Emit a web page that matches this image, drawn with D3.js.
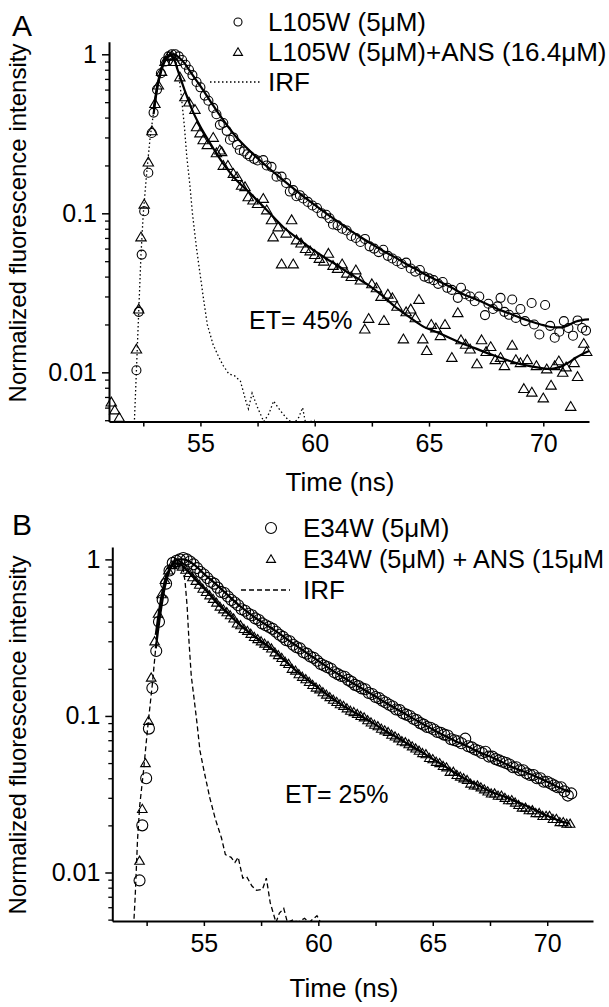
<!DOCTYPE html>
<html><head><meta charset="utf-8">
<script src="https://cdn.jsdelivr.net/npm/d3@7"></script>
<style>body{margin:0;background:#fff}svg{display:block}text{font-family:"Liberation Sans",Arial,sans-serif;fill:#000}</style>
</head><body>
<svg id="chart" width="609" height="1007"></svg>
<script>
// ---------- DATA (time in ns, normalized intensity) ----------
const xTicks = [55, 60, 65, 70];
const xMinorTicks = [52.5, 57.5, 62.5, 67.5];
const yTicks = [1, 0.1, 0.01];
const yTickLabels = ["1", "0.1", "0.01"];
const xTitle = "Time (ns)";
const yTitle = "Normalized fluorescence intensity";
const legendA = ["L105W (5\u03BCM)", "L105W (5\u03BCM)+ANS (16.4\u03BCM)", "IRF"];
const legendB = ["E34W (5\u03BCM)", "E34W (5\u03BCM) + ANS (15\u03BCM", "IRF"];
const etA = "ET= 45%";
const etB = "ET= 25%";

const aCircles = [[52.2,0.0103],[52.3,0.024],[52.43,0.055],[52.54,0.103],[52.72,0.18],[52.87,0.32],[52.95,0.43],[53.1,0.6],[53.27,0.76],[53.45,0.9],[53.6,0.97],[53.75,1.0],[53.9,1.0],[54.05,0.97],[54.2,0.92],[54.35,0.86],[54.5,0.8],[54.65,0.74],[54.83,0.67],[55.0,0.62],[55.19,0.55],[55.35,0.51],[55.56,0.46],[55.7,0.42],[55.85,0.36],[56.0,0.37],[56.15,0.33],[56.29,0.29],[56.44,0.3],[56.6,0.27],[56.72,0.25],[56.9,0.245],[57.05,0.235],[57.17,0.228],[57.35,0.22],[57.5,0.215],[57.75,0.216],[57.9,0.2],[58.11,0.196],[58.33,0.17],[58.55,0.17],[58.75,0.155],[58.91,0.137],[59.06,0.14],[59.2,0.128],[59.35,0.13],[59.5,0.124],[59.7,0.118],[59.9,0.112],[60.1,0.108],[60.3,0.1],[60.5,0.098],[60.65,0.093],[60.8,0.085],[61.0,0.084],[61.2,0.08],[61.4,0.078],[61.6,0.072],[61.8,0.07],[62.0,0.066],[62.2,0.069],[62.4,0.062],[62.6,0.06],[62.8,0.057],[63.0,0.059],[63.2,0.054],[63.4,0.052],[63.6,0.05],[63.8,0.048],[64.0,0.049],[64.2,0.045],[64.4,0.043],[64.6,0.044],[64.8,0.04],[65.0,0.039],[65.2,0.038],[65.4,0.036],[65.6,0.037],[65.8,0.034],[66.0,0.033],[66.26,0.0294],[66.4,0.034],[66.6,0.031],[66.8,0.03],[67.0,0.028],[67.2,0.03],[67.45,0.0229],[67.6,0.027],[67.8,0.025],[68.0,0.026],[68.13,0.0294],[68.3,0.024],[68.5,0.023],[68.64,0.0287],[68.8,0.022],[69.0,0.025],[69.2,0.021],[69.49,0.0273],[69.6,0.02],[69.83,0.0173],[70.08,0.0265],[70.3,0.0196],[70.5,0.0165],[70.7,0.018],[70.9,0.021],[71.1,0.019],[71.3,0.017],[71.5,0.0212],[71.7,0.019],[71.87,0.0183]];

const aTriangles = [[51.1,0.0065],[51.25,0.0058],[51.45,0.0052],[52.2,0.014],[52.3,0.025],[52.4,0.071],[52.54,0.114],[52.72,0.21],[52.88,0.33],[53.01,0.49],[53.16,0.64],[53.3,0.78],[53.45,0.9],[53.6,0.97],[53.75,0.98],[53.9,0.9],[54.1,0.72],[54.32,0.54],[54.5,0.5],[54.76,0.45],[54.83,0.35],[54.98,0.32],[55.12,0.29],[55.3,0.27],[55.56,0.3],[55.7,0.24],[55.85,0.25],[55.93,0.244],[56.0,0.2],[56.2,0.2],[56.44,0.178],[56.6,0.17],[56.8,0.15],[56.95,0.147],[57.09,0.127],[57.3,0.121],[57.5,0.115],[57.75,0.124],[57.9,0.105],[58.11,0.091],[58.18,0.071],[58.4,0.082],[58.55,0.048],[58.75,0.075],[58.99,0.091],[59.06,0.048],[59.2,0.068],[59.4,0.065],[59.6,0.06],[59.8,0.058],[60.0,0.055],[60.2,0.052],[60.4,0.05],[60.6,0.056],[60.8,0.047],[61.0,0.045],[61.2,0.048],[61.4,0.042],[61.6,0.04],[61.8,0.044],[62.0,0.038],[62.19,0.0187],[62.36,0.0218],[62.5,0.036],[62.7,0.034],[62.9,0.03],[63.03,0.0212],[63.2,0.031],[63.4,0.0294],[63.6,0.026],[63.88,0.0162],[64.0,0.024],[64.2,0.025],[64.4,0.022],[64.56,0.0287],[64.73,0.0162],[64.9,0.0137],[65.1,0.02],[65.3,0.019],[65.5,0.017],[65.7,0.02],[66.0,0.0124],[66.26,0.0237],[66.4,0.016],[66.6,0.015],[66.8,0.014],[67.1,0.0113],[67.3,0.016],[67.5,0.0135],[67.7,0.0145],[67.9,0.012],[68.13,0.0124],[68.3,0.011],[68.64,0.0148],[68.8,0.012],[69.0,0.0115],[69.15,0.0079],[69.3,0.012],[69.5,0.0075],[69.7,0.011],[70.0,0.0069],[70.15,0.0105],[70.34,0.0083],[70.5,0.011],[70.68,0.0118],[70.85,0.01],[71.0,0.0108],[71.2,0.0061],[71.35,0.0115],[71.5,0.0094],[71.77,0.0152],[71.9,0.0135]];

const aCircleFit = [[52.95,0.42],[53.1,0.6],[53.3,0.8],[53.5,0.94],[53.7,1.0],[53.85,1.0],[54.0,0.97],[54.3,0.88],[54.6,0.76],[55.0,0.63],[55.5,0.49],[56.0,0.385],[56.5,0.31],[57.0,0.26],[57.5,0.222],[58.0,0.192],[58.5,0.167],[59.0,0.146],[59.5,0.128],[60.0,0.113],[60.5,0.1],[61,0.089],[61.5,0.079],[62,0.071],[62.5,0.064],[63,0.058],[63.5,0.053],[64,0.048],[64.5,0.044],[65,0.04],[65.5,0.037],[66,0.034],[66.5,0.031],[67,0.029],[67.5,0.027],[68,0.025],[68.5,0.0235],[69,0.022],[69.5,0.0208],[70,0.0198],[70.5,0.0192],[70.8,0.0192],[71.1,0.0198],[71.4,0.0208],[71.7,0.0213],[72,0.0215]];

const aTriangleFit = [[52.95,0.45],[53.1,0.62],[53.3,0.82],[53.5,0.95],[53.7,0.98],[53.85,0.93],[54.0,0.8],[54.3,0.6],[54.6,0.46],[55.0,0.35],[55.4,0.28],[55.7,0.238],[56.0,0.205],[56.44,0.17],[57.17,0.134],[57.9,0.105],[58.62,0.082],[59.35,0.068],[60,0.058],[60.5,0.052],[61,0.047],[61.5,0.042],[62,0.038],[62.4,0.035],[63,0.03],[63.5,0.026],[64,0.023],[64.7,0.0196],[65.5,0.0175],[66.4,0.0153],[67,0.0142],[67.5,0.0133],[68.1,0.0124],[68.6,0.0117],[69.2,0.0111],[69.8,0.0107],[70.2,0.0105],[70.5,0.0106],[70.8,0.0109],[71.1,0.0115],[71.4,0.0123],[71.7,0.013],[72,0.0136]];

const aIRF = [[52.1,0.0045],[52.2,0.0103],[52.3,0.024],[52.4,0.055],[52.5,0.1],[52.65,0.18],[52.8,0.3],[52.95,0.43],[53.1,0.6],[53.3,0.8],[53.5,0.95],[53.7,1.0],[53.85,0.97],[54.03,0.8],[54.18,0.52],[54.3,0.35],[54.4,0.23],[54.54,0.15],[54.65,0.1],[54.83,0.06],[55.0,0.04],[55.12,0.03],[55.3,0.02],[55.55,0.015],[55.8,0.0125],[56.0,0.011],[56.24,0.0098],[56.5,0.0095],[56.75,0.0088],[57.0,0.0065],[57.1,0.0059],[57.26,0.0074],[57.5,0.006],[57.77,0.0049],[58.0,0.0055],[58.2,0.0066],[58.4,0.006],[58.6,0.0055],[58.85,0.005],[59.1,0.0048],[59.3,0.0052],[59.47,0.006],[59.6,0.0048],[59.8,0.0049],[60.0,0.005]];

const bCircles = [[52.19,0.0089],[52.31,0.02],[52.48,0.04],[52.6,0.083],[52.75,0.151],[52.92,0.26],[53.04,0.40],[53.2,0.55],[53.35,0.7],[53.5,0.85],[53.64,0.95],[53.8,0.98],[53.95,1.0],[54.1,1.02],[54.25,1.0],[54.4,0.97],[54.55,0.93],[54.7,0.88],[54.85,0.83],[55.0,0.8],[55.15,0.76],[55.3,0.72],[55.45,0.7],[55.6,0.66],[55.75,0.62],[55.9,0.61],[56.05,0.58],[56.2,0.55],[56.35,0.53],[56.5,0.51],[56.65,0.48],[56.8,0.47],[56.95,0.45],[57.1,0.44],[57.25,0.42],[57.4,0.41],[57.55,0.39],[57.7,0.38],[57.85,0.37],[58.0,0.36],[58.15,0.345],[58.3,0.33],[58.45,0.32],[58.6,0.305],[58.75,0.3],[58.9,0.285],[59.05,0.275],[59.2,0.27],[59.35,0.255],[59.5,0.25],[59.65,0.24],[59.8,0.235],[59.95,0.225],[60.1,0.215],[60.25,0.21],[60.4,0.205],[60.55,0.2],[60.7,0.19],[60.85,0.185],[61.0,0.18],[61.15,0.178],[61.3,0.17],[61.45,0.165],[61.6,0.158],[61.75,0.155],[61.9,0.15],[62.05,0.148],[62.2,0.14],[62.35,0.138],[62.5,0.132],[62.65,0.13],[62.8,0.125],[62.95,0.122],[63.1,0.118],[63.25,0.115],[63.4,0.11],[63.55,0.109],[63.7,0.104],[63.85,0.102],[64.0,0.1],[64.15,0.096],[64.3,0.094],[64.45,0.09],[64.6,0.088],[64.75,0.085],[64.9,0.084],[65.05,0.082],[65.2,0.079],[65.35,0.078],[65.5,0.076],[65.65,0.075],[65.8,0.071],[65.95,0.07],[66.1,0.069],[66.25,0.067],[66.42,0.0716],[66.55,0.064],[66.7,0.063],[66.85,0.061],[67.0,0.06],[67.15,0.058],[67.3,0.059],[67.45,0.055],[67.6,0.055],[67.75,0.053],[67.9,0.052],[68.05,0.051],[68.2,0.05],[68.35,0.049],[68.5,0.047],[68.65,0.047],[68.8,0.045],[68.95,0.045],[69.1,0.043],[69.25,0.042],[69.4,0.042],[69.55,0.04],[69.7,0.04],[69.85,0.038],[70.0,0.038],[70.15,0.037],[70.3,0.036],[70.45,0.035],[70.6,0.035],[70.75,0.033],[70.9,0.031],[71.05,0.032]];

const bTriangles = [[52.19,0.0119],[52.31,0.0255],[52.45,0.05],[52.58,0.093],[52.7,0.176],[52.85,0.3],[53.0,0.45],[53.15,0.6],[53.3,0.74],[53.45,0.85],[53.6,0.92],[53.75,0.95],[53.9,0.93],[54.05,0.9],[54.2,0.86],[54.35,0.82],[54.5,0.77],[54.65,0.73],[54.8,0.69],[54.95,0.65],[55.1,0.62],[55.25,0.59],[55.4,0.56],[55.55,0.53],[55.7,0.5],[55.85,0.48],[56.0,0.46],[56.15,0.44],[56.3,0.42],[56.45,0.39],[56.6,0.38],[56.75,0.36],[56.9,0.35],[57.05,0.335],[57.2,0.32],[57.35,0.31],[57.5,0.3],[57.65,0.29],[57.8,0.28],[57.95,0.27],[58.1,0.255],[58.25,0.245],[58.4,0.235],[58.55,0.222],[58.7,0.215],[58.85,0.2],[59.0,0.195],[59.15,0.185],[59.3,0.178],[59.45,0.172],[59.6,0.165],[59.75,0.158],[59.9,0.152],[60.05,0.148],[60.2,0.142],[60.35,0.137],[60.5,0.132],[60.65,0.127],[60.8,0.123],[60.95,0.119],[61.1,0.116],[61.25,0.112],[61.4,0.108],[61.55,0.106],[61.7,0.103],[61.85,0.1],[62.0,0.098],[62.15,0.094],[62.3,0.091],[62.45,0.088],[62.6,0.086],[62.75,0.083],[62.9,0.081],[63.05,0.079],[63.2,0.076],[63.35,0.074],[63.5,0.072],[63.65,0.069],[63.8,0.068],[63.95,0.066],[64.1,0.064],[64.25,0.062],[64.4,0.06],[64.55,0.058],[64.7,0.057],[64.85,0.054],[65.0,0.053],[65.15,0.051],[65.3,0.05],[65.45,0.048],[65.6,0.047],[65.75,0.044],[65.9,0.044],[66.05,0.042],[66.2,0.041],[66.35,0.04],[66.5,0.039],[66.65,0.037],[66.8,0.036],[66.95,0.036],[67.1,0.035],[67.25,0.034],[67.4,0.033],[67.55,0.032],[67.7,0.032],[67.85,0.031],[68.0,0.031],[68.15,0.03],[68.3,0.029],[68.45,0.029],[68.6,0.028],[68.75,0.027],[68.9,0.026],[69.05,0.026],[69.2,0.025],[69.35,0.025],[69.5,0.024],[69.65,0.024],[69.8,0.023],[69.95,0.023],[70.1,0.023],[70.25,0.022],[70.4,0.022],[70.55,0.021],[70.7,0.021],[70.85,0.0205],[71.0,0.0205]];

const bCircleFit = [[52.9,0.27],[53.1,0.45],[53.3,0.67],[53.5,0.85],[53.7,0.96],[53.9,1.0],[54.1,1.0],[54.3,0.98],[54.6,0.92],[55,0.81],[55.5,0.7],[56,0.6],[56.5,0.515],[57,0.45],[57.5,0.4],[58,0.36],[58.5,0.32],[59,0.283],[59.5,0.252],[60,0.225],[60.5,0.2],[61,0.18],[61.5,0.162],[62,0.147],[62.5,0.133],[63,0.12],[63.5,0.109],[64,0.099],[64.5,0.09],[65,0.082],[65.5,0.075],[66,0.069],[66.5,0.064],[67,0.059],[67.5,0.055],[68,0.051],[68.5,0.047],[69,0.044],[69.5,0.041],[70,0.038],[70.5,0.035],[71,0.0325]];

const bTriangleFit = [[52.9,0.33],[53.1,0.53],[53.3,0.73],[53.5,0.87],[53.7,0.94],[53.9,0.94],[54.1,0.9],[54.4,0.81],[54.8,0.7],[55.2,0.61],[55.6,0.52],[56,0.46],[56.5,0.39],[57,0.34],[57.5,0.3],[58,0.265],[58.5,0.228],[59,0.196],[59.5,0.172],[60,0.151],[60.5,0.133],[61,0.118],[61.5,0.107],[62,0.097],[62.5,0.088],[63,0.079],[63.5,0.072],[64,0.065],[64.5,0.059],[65,0.053],[65.5,0.048],[66,0.043],[66.5,0.039],[67,0.036],[67.5,0.033],[68,0.031],[68.5,0.029],[69,0.027],[69.5,0.025],[70,0.023],[70.5,0.0215],[71,0.0205]];

const bIRF = [[51.93,0.0045],[52.0,0.007],[52.1,0.016],[52.2,0.027],[52.36,0.044],[52.53,0.08],[52.75,0.16],[52.95,0.33],[53.13,0.52],[53.3,0.75],[53.47,0.9],[53.7,0.98],[53.85,1.0],[54.05,0.95],[54.18,0.72],[54.27,0.5],[54.35,0.3],[54.45,0.18],[54.57,0.13],[54.7,0.09],[54.83,0.06],[55.0,0.045],[55.26,0.03],[55.5,0.022],[55.77,0.0166],[55.94,0.013],[56.19,0.0125],[56.36,0.0116],[56.5,0.0125],[56.7,0.0092],[56.87,0.0094],[57.1,0.0082],[57.3,0.0077],[57.56,0.0078],[57.73,0.0092],[57.9,0.0064],[58.15,0.0048],[58.3,0.0055],[58.49,0.0059],[58.65,0.0048],[58.92,0.005],[59.1,0.0048],[59.4,0.0051],[59.6,0.0048],[59.94,0.0053],[60.1,0.0048]];

const xDomain = [51, 72];
const yDomain = [0.0049, 1.2];

// ---------- DRAWING ----------
const svg = d3.select("#chart");
svg.append("rect").attr("width", 609).attr("height", 1007).attr("fill", "#fff");

const triPath = s => `M0,${-s*0.95}L${s},${s*0.75}L${-s},${s*0.75}Z`;
const FONT = '"Liberation Sans",Arial,sans-serif';

function drawPanel(p) {
  const x = d3.scaleLinear().domain(xDomain).range([p.left, p.right]);
  const y = d3.scaleLog().domain(yDomain).range([p.bottom, p.top]);
  const g = svg.append("g");
  const clipId = "clip" + p.id;
  svg.append("defs").append("clipPath").attr("id", clipId)
    .append("rect").attr("x", p.left).attr("y", p.top - 20)
    .attr("width", p.right - p.left + 10).attr("height", p.bottom - p.top + 20);

  // minor y ticks
  const minors = [];
  for (let e = -3; e <= 0; e++) for (let k = 2; k <= 9; k++) {
    const v = k * Math.pow(10, e);
    if (v >= yDomain[0] && v <= yDomain[1]) minors.push(v);
  }
  g.append("g").attr("transform", `translate(${p.left},0)`)
    .call(d3.axisLeft(y).tickValues(minors).tickSize(4).tickSizeOuter(0).tickFormat(""))
    .call(a => a.select(".domain").remove())
    .call(a => a.selectAll("line").attr("stroke-width", 1.3));
  const yAx = g.append("g").attr("transform", `translate(${p.left},0)`)
    .call(d3.axisLeft(y).tickValues(yTicks).tickSize(7).tickSizeOuter(0).tickPadding(5)
      .tickFormat((d, i) => yTickLabels[i]));
  yAx.select(".domain").attr("stroke-width", 2);
  yAx.selectAll("line").attr("stroke-width", 1.5);
  yAx.selectAll("text").attr("font-size", 25).style("font-family", FONT);

  // x axis
  g.append("g").attr("transform", `translate(0,${p.bottom})`)
    .call(d3.axisBottom(x).tickValues(xMinorTicks).tickSize(5).tickSizeOuter(0).tickFormat(""))
    .call(a => a.select(".domain").remove())
    .call(a => a.selectAll("line").attr("stroke-width", 1.5));
  const xAx = g.append("g").attr("transform", `translate(0,${p.bottom})`)
    .call(d3.axisBottom(x).tickValues(xTicks).tickSize(5).tickSizeOuter(0).tickPadding(8));
  xAx.select(".domain").attr("stroke-width", 2);
  xAx.selectAll("line").attr("stroke-width", 1.5);
  xAx.selectAll("text").attr("font-size", 25).style("font-family", FONT);

  // titles
  g.append("text").attr("x", p.xTitleX).attr("y", p.xTitleY).attr("text-anchor", "middle")
    .attr("font-size", 26).text(xTitle);
  g.append("text").attr("transform", `translate(${p.yTitleX},${p.yTitleY}) rotate(-90)`)
    .attr("text-anchor", "middle").attr("font-size", 24).text(yTitle);
  g.append("text").attr("x", p.letterX).attr("y", p.letterY).attr("font-size", 30).text(p.letter);
  g.append("text").attr("x", p.etX).attr("y", p.etY).attr("font-size", 25).text(p.et);

  const line = d3.line().x(d => x(d[0])).y(d => y(d[1]));
  const lines = g.append("g").attr("clip-path", `url(#${clipId})`);
  lines.append("path").datum(p.irf).attr("d", line).attr("fill", "none")
    .attr("stroke", "#000").attr("stroke-width", 1.3).attr("stroke-dasharray", p.irfDash);

  // markers
  const mk = g.append("g");
  mk.selectAll("path.tri").data(p.tri).join("path").attr("class", "tri")
    .attr("transform", d => `translate(${x(d[0])},${y(d[1])})`)
    .attr("d", triPath(p.triSize)).attr("fill", "none").attr("stroke", "#000").attr("stroke-width", 1.1);
  mk.selectAll("circle").data(p.circ).join("circle")
    .attr("cx", d => x(d[0])).attr("cy", d => y(d[1])).attr("r", p.circR)
    .attr("fill", "none").attr("stroke", "#000").attr("stroke-width", 1.1);

  // fit lines
  const fit = d3.line().curve(d3.curveMonotoneX).x(d => x(d[0])).y(d => y(d[1]));
  lines.append("path").datum(p.circFit).attr("d", fit).attr("fill", "none").attr("stroke", "#000").attr("stroke-width", 2.2);
  lines.append("path").datum(p.triFit).attr("d", fit).attr("fill", "none").attr("stroke", "#000").attr("stroke-width", 2.2);

  // legend
  const lg = g.append("g");
  lg.append("circle").attr("cx", p.legX).attr("cy", p.legY[0]).attr("r", p.legCircR)
    .attr("fill", "none").attr("stroke", "#000").attr("stroke-width", 1.1);
  lg.append("path").attr("transform", `translate(${p.legX},${p.legY[1]})`).attr("d", triPath(p.legTri))
    .attr("fill", "none").attr("stroke", "#000").attr("stroke-width", 1.1);
  lg.append("line").attr("x1", p.legLine[0]).attr("x2", p.legLine[1]).attr("y1", p.legY[2]).attr("y2", p.legY[2])
    .attr("stroke", "#000").attr("stroke-width", 1.3).attr("stroke-dasharray", p.irfDash);
  p.legend.forEach((t, i) => {
    lg.append("text").attr("x", p.legTextX).attr("y", p.legY[i] + 9).attr("font-size", p.legFont[i]).text(t);
  });
}

drawPanel({id: "A", left: 109, right: 589, top: 41.7, bottom: 421.6,
  circ: aCircles, tri: aTriangles, circFit: aCircleFit, triFit: aTriangleFit, irf: aIRF,
  irfDash: "1.5,2.5", circR: 4.5, triSize: 5.2,
  xTitleX: 340, xTitleY: 491, yTitleX: 26, yTitleY: 223,
  letter: "A", letterX: 12, letterY: 36, et: etA, etX: 249, etY: 329,
  legend: legendA, legFont: [26, 26, 26], legX: 238, legY: [22, 52, 82], legCircR: 4, legTri: 4.5, legLine: [210, 262], legTextX: 268});

drawPanel({id: "B", left: 112.3, right: 593, top: 547, bottom: 921,
  circ: bCircles, tri: bTriangles, circFit: bCircleFit, triFit: bTriangleFit, irf: bIRF,
  irfDash: "5,3", circR: 5.5, triSize: 4.8,
  xTitleX: 344, xTitleY: 997, yTitleX: 26, yTitleY: 735,
  letter: "B", letterX: 12, letterY: 535, et: etB, etX: 285, etY: 803,
  legend: legendB, legFont: [26, 25.3, 26], legX: 271, legY: [528, 559, 590], legCircR: 5.5, legTri: 4.5, legLine: [241, 290], legTextX: 303});
</script>
</body></html>
